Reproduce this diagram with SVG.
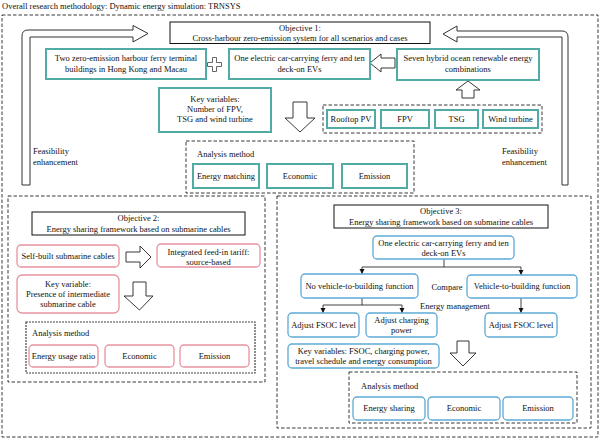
<svg xmlns="http://www.w3.org/2000/svg" width="600" height="439" viewBox="0 0 600 439">
<style>
text{font-family:"Liberation Serif","Times New Roman",serif;font-size:8.5px;fill:#111}
.c{text-anchor:middle}
.dash{fill:none;stroke:#222;stroke-width:0.9;stroke-dasharray:3.5 2}
.dash2{fill:none;stroke:#444;stroke-width:1.2;stroke-dasharray:2 1}
.obj{fill:#fff;stroke:#111;stroke-width:1}
.teal{fill:#fff;stroke:#52aaa5;stroke-width:2}
.pink{fill:#fff;stroke:#e6939f;stroke-width:1.3}
.blue{fill:#fff;stroke:#5eaad6;stroke-width:1.3}
.harrow{fill:#fff;stroke:#222;stroke-width:0.9;stroke-linejoin:miter}
.big{fill:#fff;stroke:#333;stroke-width:1}
.ln{fill:none;stroke:#111;stroke-width:0.8}
</style>
<defs>
<marker id="ah" markerWidth="6" markerHeight="6" refX="5" refY="3" orient="auto" markerUnits="userSpaceOnUse">
<path d="M0,0.5 L5,3 L0,5.5 Z" fill="#111"/>
</marker>
</defs>

<text x="2" y="8.5">Overall research methodology: Dynamic energy simulation: TRNSYS</text>

<g id="frames">
<rect class="dash" x="2" y="15" width="596" height="422"/>
<rect class="dash" x="8" y="196" width="257" height="186"/>
<rect class="dash" x="277" y="196" width="314" height="232"/>
</g>

<g id="connectors">
<path class="big" d="M22,185 L22,36 Q22,30 28,30 L133,30 L133,25.5 L148,33.5 L133,42 L133,37 L30,37 L30,185 Z"/>
<path class="big" d="M568,185 L568,37 Q568,31 562,31 L457,31 L457,26 L443,34 L457,42 L457,37 L562,37 L562,185 Z"/>
<path class="harrow" d="M370,63 L381,54 L381,58 L395,58 L395,68 L381,68 L381,72 Z"/>
<path class="harrow" d="M468,81 L480,90 L474,90 L474,98 L462,98 L462,90 L456,90 Z"/>
<path class="harrow" d="M293,102 L307,102 L307,118 L315,118 L300,132 L285,118 L293,118 Z"/>
<path class="harrow" d="M126,252 L140,252 L140,246 L151,257 L140,268 L140,262 L126,262 Z"/>
<path class="harrow" d="M133,282 L146,282 L146,296 L153,296 L139.5,310 L124,296 L133,296 Z"/>
<path class="harrow" d="M457,341 L469,341 L469,353 L476,353 L463,366 L450,353 L457,353 Z"/>
<path class="ln" d="M444,259 L444,267 M362,267 L521,267"/>
<path class="ln" d="M362,267 L362,274" marker-end="url(#ah)"/>
<path class="ln" d="M521,267 L521,275" marker-end="url(#ah)"/>
<path class="ln" d="M362,298 L362,305 M323,305 L402,305"/>
<path class="ln" d="M323,305 L323,313" marker-end="url(#ah)"/>
<path class="ln" d="M402,305 L402,313" marker-end="url(#ah)"/>
<path class="ln" d="M521,298 L521,313" marker-end="url(#ah)"/>
</g>

<g id="obj1">
<rect class="obj" x="170" y="22" width="260" height="21.5"/>
<text class="c" x="300" y="30.5">Objective 1:</text>
<text class="c" x="300" y="40.5">Cross-harbour zero-emission system for all scenarios and cases</text>
</g>
<g id="terminals">
<rect class="teal" x="46" y="49" width="160" height="30"/>
<text class="c" x="126" y="61">Two zero-emission harbour ferry terminal</text>
<text class="c" x="126" y="72">buildings in Hong Kong and Macau</text>
</g>
<g id="plus">
<path d="M212.5,57.5 h4 v5 h5 v4 h-5 v5 h-4 v-5 h-5 v-4 h5 Z" fill="#fff" stroke="#555" stroke-width="0.9"/>
</g>
<g id="ferry1">
<rect class="teal" x="229" y="49" width="141" height="30"/>
<text class="c" x="299.5" y="61">One electric car-carrying ferry and ten</text>
<text class="c" x="299.5" y="72">deck-on EVs</text>
</g>
<g id="hybrid">
<rect class="teal" x="397" y="49" width="142" height="31"/>
<text class="c" x="468" y="61">Seven hybrid ocean renewable energy</text>
<text class="c" x="468" y="72">combinations</text>
</g>
<g id="keyvars1">
<rect class="teal" x="159" y="88" width="112" height="44"/>
<text class="c" x="215" y="102">Key variables:</text>
<text class="c" x="215" y="112">Number of FPV,</text>
<text class="c" x="215" y="122">TSG and wind turbine</text>
</g>
<g id="sources">
<rect class="dash" x="323" y="105" width="219" height="28"/>
<rect class="teal" x="327" y="110" width="48" height="18"/>
<text class="c" x="351" y="122">Rooftop PV</text>
<rect class="teal" x="381" y="110" width="48" height="18"/>
<text class="c" x="405" y="122">FPV</text>
<rect class="teal" x="435" y="110" width="43" height="18"/>
<text class="c" x="456.5" y="122">TSG</text>
<rect class="teal" x="483" y="110" width="55" height="18"/>
<text class="c" x="510.5" y="122">Wind turbine</text>
</g>
<g id="analysis1">
<rect class="dash" x="186" y="141" width="228" height="52"/>
<text x="197" y="157">Analysis method</text>
<rect class="teal" x="193" y="164" width="66" height="24"/>
<text class="c" x="226" y="179">Energy matching</text>
<rect class="teal" x="267" y="164" width="66" height="24"/>
<text class="c" x="300" y="179">Economic</text>
<rect class="teal" x="342" y="164" width="65" height="24"/>
<text class="c" x="374.5" y="179">Emission</text>
</g>
<g id="feasibility">
<text x="33" y="154">Feasibility</text>
<text x="33" y="165">enhancement</text>
<text x="502" y="154">Feasibility</text>
<text x="502" y="165">enhancement</text>
</g>

<g id="obj2">
<rect class="obj" x="32" y="212" width="213" height="23"/>
<text class="c" x="138.5" y="220.5">Objective 2:</text>
<text class="c" x="138.5" y="231.5">Energy sharing framework based on submarine cables</text>
</g>
<g id="selfbuilt">
<rect class="pink" x="17" y="245" width="102" height="22" rx="4"/>
<text class="c" x="68" y="259">Self-built submarine cables</text>
</g>
<g id="tariff">
<rect class="pink" x="157" y="244" width="103" height="23" rx="4"/>
<text class="c" x="208.5" y="254.5">Integrated feed-in tariff:</text>
<text class="c" x="208.5" y="264.5">source-based</text>
</g>
<g id="keyvar2">
<rect class="pink" x="17" y="275" width="102" height="38" rx="5"/>
<text class="c" x="68" y="286.5">Key variable:</text>
<text class="c" x="68" y="296.5">Presence of intermediate</text>
<text class="c" x="68" y="306.5">submarine cable</text>
</g>
<g id="analysis2">
<rect class="dash2" x="26" y="322" width="229" height="51"/>
<text x="32" y="336">Analysis method</text>
<rect class="pink" x="29" y="345" width="69" height="22" rx="4"/>
<text class="c" x="63.5" y="359">Energy usage ratio</text>
<rect class="pink" x="105" y="345" width="69" height="22" rx="4"/>
<text class="c" x="139.5" y="359">Economic</text>
<rect class="pink" x="180" y="345" width="69" height="22" rx="4"/>
<text class="c" x="214.5" y="359">Emission</text>
</g>

<g id="obj3">
<rect class="obj" x="334" y="205" width="214" height="23"/>
<text class="c" x="441" y="213.5">Objective 3:</text>
<text class="c" x="441" y="224.5">Energy sharing framework based on submarine cables</text>
</g>
<g id="ferry3">
<rect class="blue" x="373" y="236" width="141" height="23" rx="4"/>
<text class="c" x="443.5" y="245.5">One electric car-carrying ferry and ten</text>
<text class="c" x="443.5" y="255.5">deck-on EVs</text>
</g>
<g id="nov2b">
<rect class="blue" x="301" y="274" width="117" height="24" rx="4"/>
<text class="c" x="359.5" y="289">No vehicle-to-building function</text>
</g>
<g id="compare">
<text class="c" x="447" y="290">Compare</text>
<text class="c" x="455" y="309">Energy management</text>
</g>
<g id="v2b">
<rect class="blue" x="467" y="275" width="110" height="23" rx="4"/>
<text class="c" x="522" y="289">Vehicle-to-building function</text>
</g>
<g id="fsoc1">
<rect class="blue" x="288" y="313" width="71" height="24" rx="4"/>
<text class="c" x="323.5" y="328">Adjust FSOC level</text>
</g>
<g id="charging">
<rect class="blue" x="366" y="313" width="71" height="24" rx="4"/>
<text class="c" x="401.5" y="323">Adjust charging</text>
<text class="c" x="401.5" y="333">power</text>
</g>
<g id="fsoc2">
<rect class="blue" x="485" y="313" width="72" height="24" rx="4"/>
<text class="c" x="521" y="328">Adjust FSOC level</text>
</g>
<g id="keyvars3">
<rect class="blue" x="288" y="344" width="151" height="24" rx="4"/>
<text class="c" x="363.5" y="354">Key variables: FSOC, charging power,</text>
<text class="c" x="363.5" y="364">travel schedule and energy consumption</text>
</g>
<g id="analysis3">
<rect class="dash" x="349" y="372" width="228" height="51"/>
<text x="361" y="389">Analysis method</text>
<rect class="blue" x="353" y="397" width="72" height="23" rx="4"/>
<text class="c" x="389" y="411">Energy sharing</text>
<rect class="blue" x="428" y="397" width="72" height="23" rx="4"/>
<text class="c" x="464" y="411">Economic</text>
<rect class="blue" x="503" y="397" width="70" height="23" rx="4"/>
<text class="c" x="538" y="411">Emission</text>
</g>
</svg>
